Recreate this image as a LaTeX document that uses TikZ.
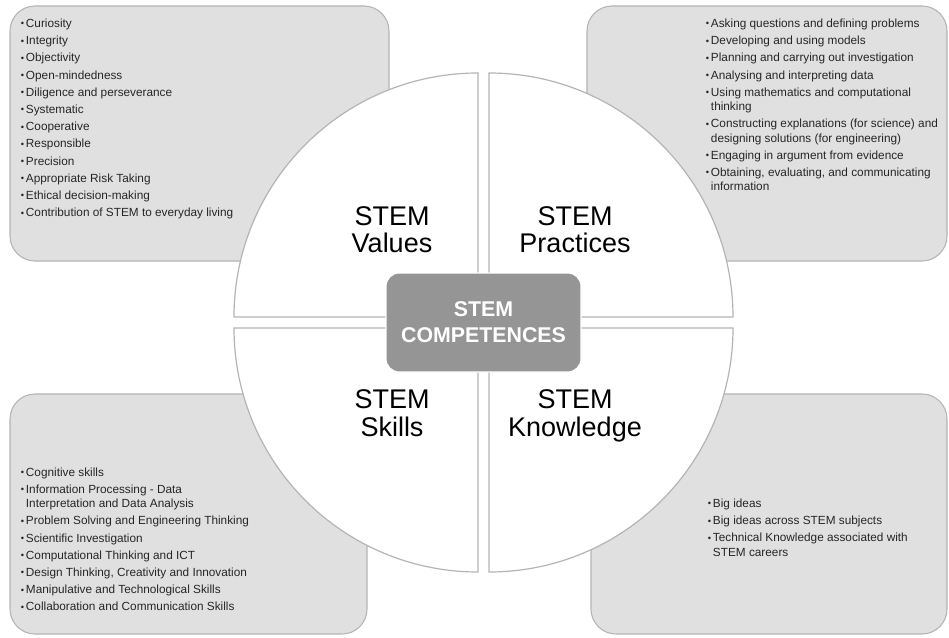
\documentclass[tikz,border=0pt]{standalone}
\usepackage{fontspec}
\setmainfont{Liberation Sans}

\definecolor{panelgray}{HTML}{E0E0E0}
\definecolor{edgegray}{HTML}{B4B4B4}
\definecolor{coregray}{HTML}{959595}
\definecolor{inkgray}{HTML}{262626}

% bullet list helpers: first baseline of the stack is the node's baseline
\newcommand\bulletmark{\makebox[3.9pt][l]{\fontsize{7}{7}\selectfont\raisebox{0.4pt}{•}}}
\newcommand\li[1]{\hbox{\bulletmark#1}\vskip2.2pt}
\newcommand\lii[2]{\hbox{\bulletmark#1}\hbox{\hspace*{3.9pt}#2}\vskip2.2pt}
\newcommand\listbox[1]{\vtop{\baselineskip=10.7pt\lineskiplimit=-20pt#1}}
% two centred lines, first baseline on the node's baseline
\newcommand\twoline[3]{\vtop{\baselineskip=#1\lineskiplimit=-20pt\hbox to 0pt{\hss#2\hss}\hbox to 0pt{\hss#3\hss}}}

\begin{document}
\begin{tikzpicture}[x=0.75pt,y=0.75pt,
  panel/.style={fill=panelgray, draw=edgegray, line width=0.8pt, rounded corners=18.75pt},
  slice/.style={fill=white, draw=edgegray, line width=0.9pt},
  listtext/.style={inner sep=0pt, anchor=base west, text=inkgray, font=\fontsize{8.85}{10.7}\selectfont},
  quadlabel/.style={inner sep=0pt, anchor=base, text=black, font=\fontsize{20.25}{20.8}\selectfont},
  core/.style={fill=coregray, draw=white, line width=0.8pt, rounded corners=10pt,
    minimum width=146.25pt, minimum height=74.25pt, inner sep=0pt, text=white,
    font=\fontsize{16}{19.5}\selectfont\bfseries}]

\useasboundingbox (0,0) rectangle (949,637);

% corner panels
\draw[panel] (10,631) rectangle (389,376);
\draw[panel] (587,631) rectangle (947,376);
\draw[panel] (10,243) rectangle (367,3);
\draw[panel] (591,243) rectangle (947,3);

% four circle quadrants, pulled apart from the centre
\draw[slice] (478,320) -- (234,320) arc[start angle=180, end angle=90, radius=244] -- cycle;
\draw[slice] (489,320) -- (489,564) arc[start angle=90, end angle=0, radius=244] -- cycle;
\draw[slice] (478,309) -- (234,309) arc[start angle=180, end angle=270, radius=244] -- cycle;
\draw[slice] (489,309) -- (733,309) arc[start angle=0, end angle=-90, radius=244] -- cycle;

% quadrant titles
\node[quadlabel] (values) at (392,412) {\twoline{20.8pt}{STEM}{Values}};
\node[quadlabel] (practices) at (575,412) {\twoline{20.8pt}{STEM}{Practices}};
\node[quadlabel] (skills) at (392,228.7) {\twoline{20.8pt}{STEM}{Skills}};
\node[quadlabel] (knowledge) at (575,228.7) {\twoline{20.8pt}{STEM}{Knowledge}};

% centre block
\node[core] (competences) at (483.5,314.5) {\twoline{19.5pt}{STEM}{COMPETENCES}};

% lists
\node[listtext] (valuesList) at (20.5,609.5) {\listbox{%
\li{Curiosity}
\li{Integrity}
\li{Objectivity}
\li{Open-mindedness}
\li{Diligence and perseverance}
\li{Systematic}
\li{Cooperative}
\li{Responsible}
\li{Precision}
\li{Appropriate Risk Taking}
\li{Ethical decision-making}
\li{Contribution of STEM to everyday living}}};

\node[listtext] (practicesList) at (705.5,609.5) {\listbox{%
\li{Asking questions and defining problems}
\li{Developing and using models}
\li{Planning and carrying out investigation}
\li{Analysing and interpreting data}
\lii{Using mathematics and computational}{thinking}
\lii{Constructing explanations (for science) and}{designing solutions (for engineering)}
\li{Engaging in argument from evidence}
\lii{Obtaining, evaluating, and communicating}{information}}};

\node[listtext] (skillsList) at (20.5,160.8) {\listbox{%
\li{Cognitive skills}
\lii{Information Processing - Data}{Interpretation and Data Analysis}
\li{Problem Solving and Engineering Thinking}
\li{Scientific Investigation}
\li{Computational Thinking and ICT}
\li{Design Thinking, Creativity and Innovation}
\li{Manipulative and Technological Skills}
\li{Collaboration and Communication Skills}}};

\node[listtext] (knowledgeList) at (707.5,129.5) {\listbox{%
\li{Big ideas}
\li{Big ideas across STEM subjects}
\lii{Technical Knowledge associated with}{STEM careers}}};

\end{tikzpicture}
\end{document}
